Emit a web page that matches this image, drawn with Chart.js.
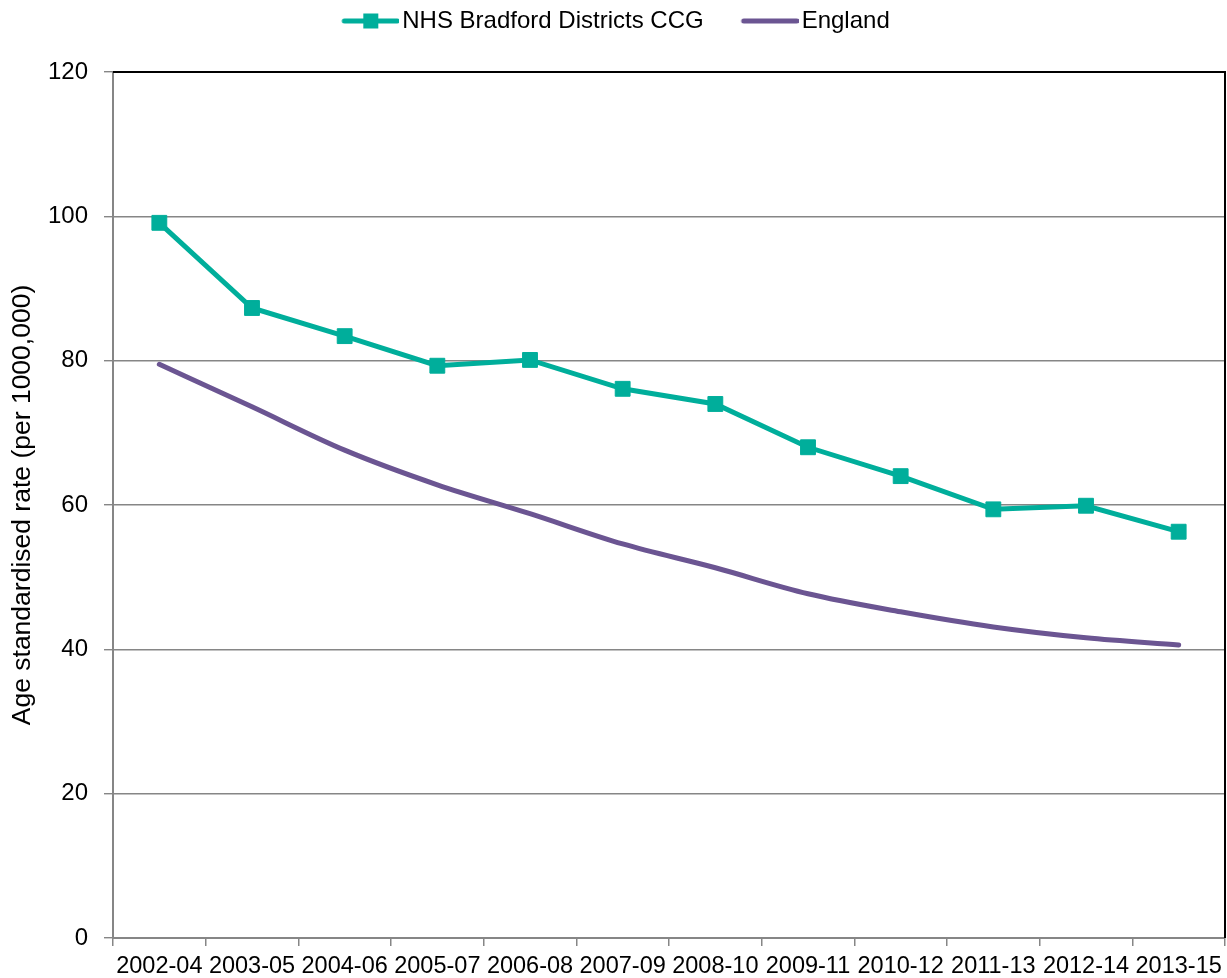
<!DOCTYPE html>
<html>
<head>
<meta charset="utf-8">
<script src="https://cdn.jsdelivr.net/npm/chart.js@4"></script>
<style>
  html, body { margin: 0; padding: 0; background: #fff; }
  #wrap { width: 1227px; height: 978px; }
</style>
</head>
<body>
<div id="wrap"><canvas id="grafico"></canvas></div>
<script>
// values
const periodos = ['2002-04', '2003-05', '2004-06', '2005-07', '2006-08', '2007-09',
  '2008-10', '2009-11', '2010-12', '2011-13', '2012-14', '2013-15'];
const bradford = [99.1, 87.3, 83.4, 79.3, 80.1, 76.1, 74.0, 68.0, 64.0, 59.4, 59.9, 56.3];
const england = [79.5, 73.6, 67.6, 62.8, 58.8, 54.6, 51.3, 47.7, 45.2, 43.1, 41.6, 40.6];
const yTicks = [0, 20, 40, 60, 80, 100, 120];

const TEAL = '#00ae9b';
const PURPLE = '#6b5592';
const GRIS = '#868686';
const FUENTE = "Arial, 'Liberation Sans', sans-serif";

// legend samples: line with square marker / plain line
function muestra(color, conCuadro) {
  const c = document.createElement('canvas');
  c.width = 66; c.height = 16;
  const ctx = c.getContext('2d');
  ctx.strokeStyle = color;
  ctx.lineWidth = 5;
  ctx.lineCap = 'round';
  ctx.beginPath();
  ctx.moveTo(11, 8);
  ctx.lineTo(64, 8);
  ctx.stroke();
  if (conCuadro) {
    ctx.fillStyle = color;
    ctx.fillRect(30, 0.5, 15, 15);
  }
  return c;
}
const muestras = [muestra(TEAL, true), muestra(PURPLE, false)];

// legend padding gives the item spacing, so pull the legend back up;
// black frame on top and right of the plot area
const marco = {
  id: 'marco',
  afterLayout(chart) {
    const lg = chart.legend;
    if (lg) { lg.top -= 29; lg.bottom -= 29; }
  },
  afterDraw(chart) {
    const a = chart.chartArea;
    const ctx = chart.ctx;
    ctx.save();
    ctx.strokeStyle = '#000';
    ctx.lineWidth = 2;
    ctx.beginPath();
    ctx.moveTo(a.left, a.top);
    ctx.lineTo(a.right, a.top);
    ctx.lineTo(a.right, a.bottom);
    ctx.stroke();
    ctx.restore();
  }
};

new Chart(document.getElementById('grafico'), {
  type: 'line',
  data: {
    labels: periodos,
    datasets: [{
      label: 'NHS Bradford Districts CCG',
      data: bradford,
      borderColor: TEAL,
      backgroundColor: TEAL,
      borderWidth: 5,
      pointStyle: 'rect',
      pointRadius: 10.5,
      pointBorderWidth: 1,
      pointBackgroundColor: TEAL,
      pointBorderColor: TEAL,
      tension: 0
    }, {
      label: 'England',
      data: england,
      borderColor: PURPLE,
      backgroundColor: PURPLE,
      borderWidth: 5,
      pointRadius: 0,
      cubicInterpolationMode: 'monotone',
      borderCapStyle: 'round'
    }]
  },
  options: {
    responsive: true,
    maintainAspectRatio: false,
    animation: false,
    layout: { autoPadding: false, padding: { left: 7, right: 2, top: 0, bottom: 0 } },
    plugins: {
      tooltip: { enabled: false },
      legend: {
        position: 'top',
        labels: {
          usePointStyle: true,
          pointStyleWidth: 48,
          boxHeight: 16,
          padding: 38,
          color: '#000',
          font: { family: FUENTE, size: 24 },
          generateLabels(chart) {
            const items = Chart.defaults.plugins.legend.labels.generateLabels(chart);
            items.forEach((it, i) => { it.pointStyle = muestras[i]; });
            return items;
          }
        }
      }
    },
    scales: {
      x: {
        offset: true,
        grid: {
          offset: true,
          drawOnChartArea: false,
          drawTicks: true,
          tickLength: 8,
          color: GRIS,
          lineWidth: 1.5
        },
        border: { color: GRIS, width: 2 },
        ticks: {
          color: '#000',
          font: { family: FUENTE, size: 23.5 },
          maxRotation: 0,
          autoSkip: false,
          padding: 6
        },
        afterFit(scale) {
          scale.height = 40;
          scale.paddingLeft = 0;
          scale.paddingRight = 0;
        }
      },
      y: {
        min: yTicks[0],
        max: yTicks[yTicks.length - 1],
        afterBuildTicks(scale) { scale.ticks = yTicks.map(v => ({ value: v })); },
        grid: {
          color: ctx => (ctx.tick && ctx.tick.value === 120 ? '#000' : GRIS),
          tickColor: GRIS,
          lineWidth: 1.4,
          drawTicks: true,
          tickLength: 9
        },
        border: { color: GRIS, width: 2 },
        ticks: {
          color: '#000',
          font: { family: FUENTE, size: 24 },
          padding: 16
        },
        title: {
          display: true,
          text: 'Age standardised rate (per 1000,000)',
          color: '#000',
          font: { family: FUENTE, size: 26.5 },
          padding: { top: 0, bottom: 0 }
        },
        afterFit(scale) { scale.width = 106; }
      }
    }
  },
  plugins: [marco]
});
</script>
</body>
</html>
